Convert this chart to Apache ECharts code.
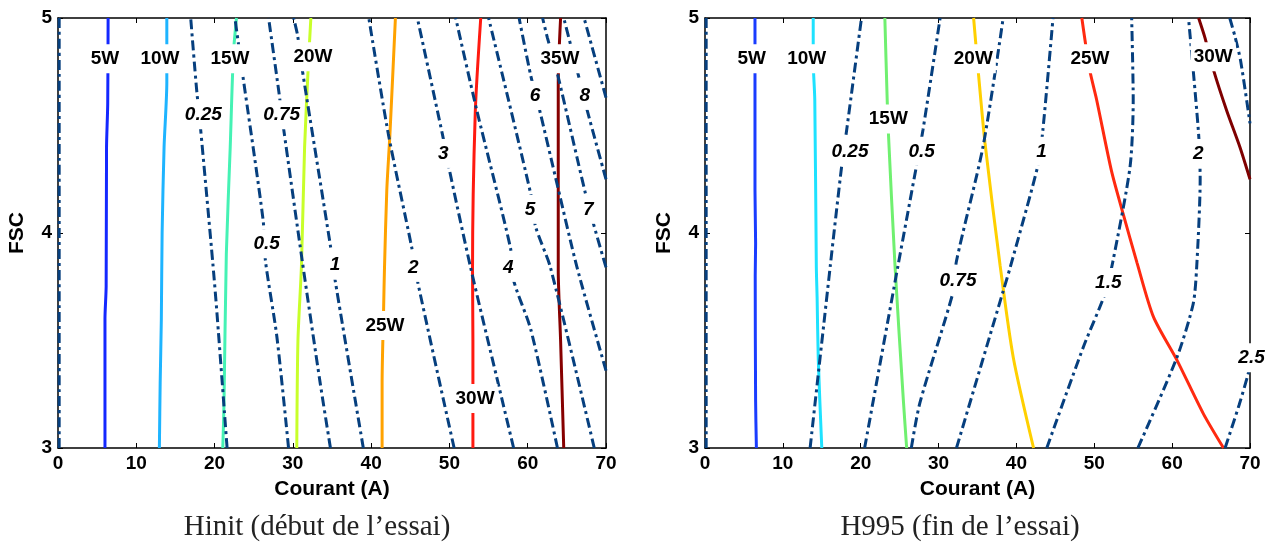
<!DOCTYPE html>
<html>
<head>
<meta charset="utf-8">
<script src="https://cdn.jsdelivr.net/npm/echarts@6/dist/echarts.min.js"></script>
<style>
html,body{margin:0;padding:0;background:#fff;}
#chart{width:1277px;height:543px;}
</style>
</head>
<body>
<div id="chart"></div>
<script>
// ---------- Axis ticks ----------
const xTicks = [0, 10, 20, 30, 40, 50, 60, 70];
const yTicks = [3, 4, 5];
const xTitle = 'Courant (A)';
const yTitle = 'FSC';
const captionLeft = 'Hinit (début de l’essai)';
const captionRight = 'H995 (fin de l’essai)';

// ---------- Left panel (Hinit): power contours [courant, FSC] ----------
const L5W  = [[6.0,3],[6.0,3.6],[6.15,3.75],[6.2,4.4],[6.35,4.6],[6.4,5]];
const L10W = [[12.95,3],[13.05,3.3],[13.2,3.6],[13.3,4.0],[13.55,4.4],[13.9,4.7],[13.9,5]];
const L15W = [[21.05,3],[21.2,3.2],[21.5,3.9],[22.0,4.4],[22.4,4.83],[22.8,5]];
const L20W = [[30.5,3],[30.65,3.5],[31.1,3.85],[31.5,4.4],[32.0,4.8],[32.3,5]];
const L25W = [[41.4,3],[41.4,3.3],[41.6,3.66],[41.7,3.83],[42.0,4.2],[42.4,4.46],[43.1,5]];
const L30W = [[53.0,3],[53.0,3.5],[52.95,3.83],[53.3,4.56],[54.0,5]];
const L35W = [[64.6,3],[64.2,3.5],[63.9,3.83],[63.9,4.7],[64.2,5]];

// ---------- Left panel: level contours (dash-dot) ----------
const L_0   = [[0.15,3],[0.15,5]];
const L_025 = [[21.6,3],[20.3,3.63],[19.8,3.85],[18.2,4.49],[17.7,4.67],[16.95,5]];
const L_05  = [[29.45,3],[27.95,3.52],[26.5,3.87],[26.2,4.06],[23.5,4.76],[22.6,5]];
const L_075 = [[34.8,3],[33.5,3.3],[31.2,3.87],[28.8,4.49],[28.2,4.66],[26.9,5]];
const L_1   = [[39.0,3],[35.4,3.78],[34.8,3.94],[31.2,4.76],[30.6,4.92],[30.1,5]];
const L_2   = [[50.6,3],[45.9,3.78],[45.2,3.93],[42.2,4.46],[39.7,5]];
const L_3   = [[58.2,3],[56.1,3.32],[52.7,3.84],[49.9,4.31],[49.1,4.46],[45.9,5]];
const L_4   = [[63.8,3],[60.4,3.55],[58.2,3.78],[57.8,3.93],[53.5,4.57],[50.8,5]];
const L_5   = [[68.5,3],[62.9,3.84],[61.0,4.03],[60.4,4.18],[55.0,5]];
const L_6   = [[70,3.36],[66.3,3.84],[63.8,4.22],[61.4,4.59],[60.4,4.73],[58.9,5]];
const L_7   = [[70,3.84],[68.5,4.03],[67.4,4.18],[63.8,4.74],[62.5,4.91],[61.9,5]];
const L_8   = [[70,4.25],[67.6,4.57],[66.5,4.73],[64.6,5]];
const L_9   = [[70,4.63],[67.2,5]];

// ---------- Left panel labels [text, courant, FSC] ----------
const leftPowerLabels = [['5W',6.0,4.81],['10W',13.03,4.81],['15W',21.97,4.81],['20W',32.57,4.82],['25W',41.77,3.57],['30W',53.27,3.23],['35W',64.12,4.81]];
const leftLevelLabels = [['0.25',18.56,4.55],['0.5',26.66,3.95],['0.75',28.57,4.55],['1',35.38,3.85],['2',45.38,3.84],['3',49.21,4.37],['4',57.52,3.84],['5',60.29,4.11],['6',60.93,4.64],['7',67.73,4.11],['8',67.3,4.64]];

// ---------- Right panel (H995): power contours ----------
const R5W  = [[6.6,3],[6.5,3.22],[6.45,3.8],[6.5,3.95],[6.42,4.2],[6.42,5]];
const R10W = [[15.0,3],[14.55,3.41],[14.4,3.7],[14.3,3.84],[14.1,4.62],[13.9,4.8],[13.9,5]];
const R15W = [[25.9,3],[25.5,3.21],[24.4,3.85],[23.55,4.47],[23.4,4.62],[23.1,5]];
const R20W = [[42.2,3],[39.6,3.42],[37.9,3.85],[35.96,4.42],[35.1,4.75],[34.5,5]];
const R25W = [[66.6,3],[64.0,3.16],[60.6,3.41],[57.6,3.61],[55.5,3.86],[53.7,4.09],[52.2,4.29],[50.3,4.62],[49.4,4.76],[48.4,5]];
const R30W = [[70,4.25],[68.7,4.40],[67.0,4.57],[65.3,4.76],[64.2,4.91],[63.4,5]];

// ---------- Right panel: level contours (dash-dot) ----------
const R_0   = [[0.15,3],[0.15,5]];
const R_025 = [[13.5,3],[16.1,3.85],[17.55,4.31],[18.2,4.48],[20.1,5]];
const R_05  = [[20.5,3],[24.8,3.85],[27.2,4.32],[28.0,4.48],[30.2,5]];
const R_075 = [[26.5,3],[27.6,3.21],[31.9,3.73],[32.3,3.87],[35.7,4.40],[38.3,5]];
const R_1   = [[32.3,3],[38.3,3.73],[39.2,3.84],[42.8,4.32],[43.4,4.48],[44.7,5]];
const R_15  = [[43.9,3],[48.6,3.47],[51.4,3.72],[52.4,3.87],[54.6,4.31],[55.0,4.62],[54.8,5]];
const R_2   = [[55.6,3],[60.6,3.42],[62.7,3.67],[63.15,3.84],[63.6,4.25],[63.4,4.46],[62.1,5]];
const R_25a = [[66.8,3],[68.6,3.2],[69.8,3.35],[70,3.4]];
const R_25b = [[67.4,5],[68.1,4.91],[68.8,4.8],[70,4.51]];

// ---------- Right panel labels ----------
const rightPowerLabels = [['5W',6.0,4.81],['10W',13.06,4.81],['15W',23.54,4.53],['20W',34.46,4.81],['25W',49.45,4.81],['30W',65.28,4.82]];
const rightLevelLabels = [['0.25',18.62,4.38],['0.5',27.83,4.38],['0.75',32.49,3.78],['1',43.24,4.38],['1.5',51.8,3.77],['2',63.36,4.37],['2.5',70.2,3.42]];

// ---------- Styles ----------
const FONT = 'Liberation Sans, Arial, Helvetica, sans-serif';
const NAVY = '#063f7e';
const DASHDOT = [10, 4, 3, 4];

const leftPower = [
  [L5W, '#1428ff'], [L10W, '#1eb4ff'], [L15W, '#45f2b4'], [L20W, '#c8ff2a'],
  [L25W, '#ffa200'], [L30W, '#ff1a10'], [L35W, '#860000']
];
const leftLevels = [L_0, L_025, L_05, L_075, L_1, L_2, L_3, L_4, L_5, L_6, L_7, L_8, L_9];
const rightPower = [
  [R5W, '#1a3cff'], [R10W, '#1ee2ff'], [R15W, '#70f070'], [R20W, '#ffd000'],
  [R25W, '#ff2a10'], [R30W, '#7f0000']
];
const rightLevels = [R_0, R_025, R_05, R_075, R_1, R_15, R_2, R_25a, R_25b];

function solid(data, color, gi) {
  return { type: 'line', xAxisIndex: gi * 2, yAxisIndex: gi * 2, data: data,
    showSymbol: false, symbol: 'none', smooth: 0.25, z: 2,
    lineStyle: { color: color, width: 3 } };
}
function dash(data, gi) {
  return { type: 'line', xAxisIndex: gi * 2, yAxisIndex: gi * 2, data: data,
    showSymbol: false, symbol: 'none', smooth: 0.25, z: 3,
    lineStyle: { color: NAVY, width: 3, type: DASHDOT, cap: 'butt' } };
}
function labels(list, gi, italic) {
  return { type: 'scatter', xAxisIndex: gi * 2, yAxisIndex: gi * 2, clip: false, z: 5,
    symbolSize: 1, itemStyle: { color: '#fff', opacity: 1 }, silent: true,
    data: list.map(d => [d[1], d[2], d[0]]),
    label: { show: true, position: 'inside', formatter: p => p.value[2], opacity: 1,
      fontFamily: FONT, fontSize: 19, fontWeight: 'bold', fontStyle: italic ? 'italic' : 'normal',
      color: '#000', backgroundColor: '#fff', padding: [5, 3] } };
}

function xAxes(gi) {
  const base = { gridIndex: gi, type: 'value', min: xTicks[0], max: xTicks[xTicks.length - 1], interval: 10,
    splitLine: { show: false },
    axisLine: { show: true, onZero: false, lineStyle: { color: '#000', width: 1.5 } },
    axisTick: { show: true, inside: true, length: 5, lineStyle: { color: '#000', width: 1 } } };
  return [
    Object.assign({}, base, { position: 'bottom', name: xTitle, nameLocation: 'middle', nameGap: 31,
      nameTextStyle: { fontFamily: FONT, fontSize: 21, fontWeight: 'bold', color: '#000' },
      axisLabel: { show: true, margin: 6, fontFamily: FONT, fontSize: 19, fontWeight: 'bold', color: '#000' } }),
    Object.assign({}, base, { position: 'top', axisLabel: { show: false } })
  ];
}
function yAxes(gi) {
  const base = { gridIndex: gi, type: 'value', min: yTicks[0], max: yTicks[yTicks.length - 1], interval: 1,
    splitLine: { show: false },
    axisLine: { show: true, onZero: false, lineStyle: { color: '#000', width: 1.5 } },
    axisTick: { show: true, inside: true, length: 5, lineStyle: { color: '#000', width: 1 } } };
  return [
    Object.assign({}, base, { position: 'left', name: yTitle, nameLocation: 'middle', nameGap: 30, nameRotate: 90,
      nameTextStyle: { fontFamily: FONT, fontSize: 21, fontWeight: 'bold', color: '#000' },
      axisLabel: { show: true, margin: 6, fontFamily: FONT, fontSize: 19, fontWeight: 'bold', color: '#000' } }),
    Object.assign({}, base, { position: 'right', axisLabel: { show: false } })
  ];
}

const series = [];
leftPower.forEach(p => series.push(solid(p[0], p[1], 0)));
leftLevels.forEach(d => series.push(dash(d, 0)));
series.push(labels(leftPowerLabels, 0, false));
series.push(labels(leftLevelLabels, 0, true));
rightPower.forEach(p => series.push(solid(p[0], p[1], 1)));
rightLevels.forEach(d => series.push(dash(d, 1)));
series.push(labels(rightPowerLabels, 1, false));
series.push(labels(rightLevelLabels, 1, true));

const chart = echarts.init(document.getElementById('chart'), null, { renderer: 'canvas' });
chart.setOption({
  animation: false,
  backgroundColor: '#fff',
  grid: [
    { left: 58, top: 18, width: 548, height: 430, containLabel: false },
    { left: 705, top: 18, width: 545, height: 430, containLabel: false }
  ],
  xAxis: xAxes(0).concat(xAxes(1)),
  yAxis: yAxes(0).concat(yAxes(1)),
  series: series,
  graphic: [
    { type: 'text', x: 317, y: 527, style: { text: captionLeft, align: 'center', verticalAlign: 'middle',
      font: '29px "Liberation Serif", "Times New Roman", serif', fill: '#222' } },
    { type: 'text', x: 960, y: 527, style: { text: captionRight, align: 'center', verticalAlign: 'middle',
      font: '29px "Liberation Serif", "Times New Roman", serif', fill: '#222' } }
  ]
});
</script>
</body>
</html>
